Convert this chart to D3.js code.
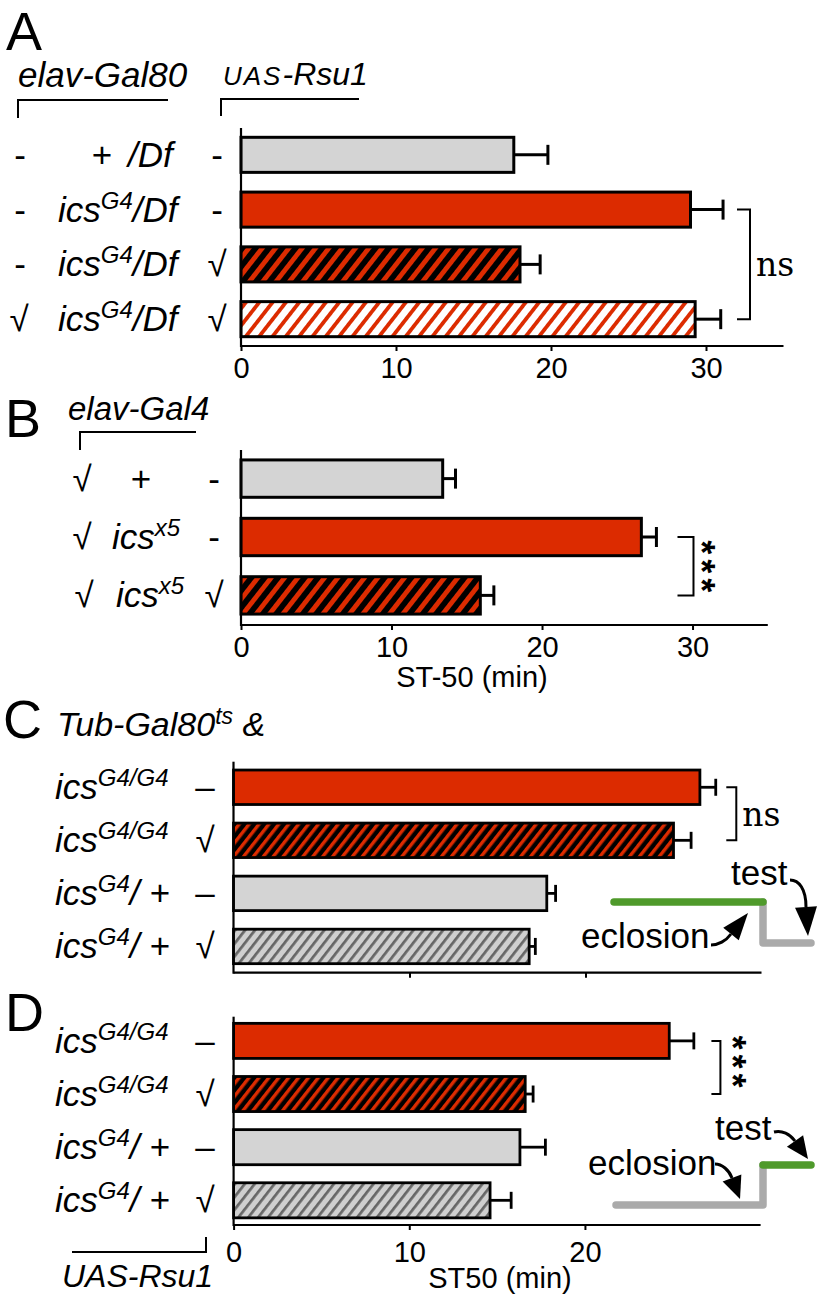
<!DOCTYPE html>
<html><head><meta charset="utf-8">
<script src="https://cdn.jsdelivr.net/npm/d3@7"></script>
<style>body{margin:0;background:#fff}svg{display:block}</style>
</head><body><svg id="c" width="820" height="1300"></svg>
<script>
// ================= DATA =================
// Panel A (elav-Gal80 / genotype / UAS-Rsu1)
const rowsA   = ["wt/Df", "icsG4/Df", "icsG4/Df+Rsu1", "elavGal80;icsG4/Df+Rsu1"];
const col1A   = ["-", "-", "-", "√"];
const genoA   = [["+", "", "/Df"], ["ics", "G4", "/Df"], ["ics", "G4", "/Df"], ["ics", "G4", "/Df"]];
const col3A   = ["-", "-", "√", "√"];
const meansA  = [17.6, 29.0, 18.0, 29.3];
const semA    = [2.2, 2.1, 1.3, 1.65];
const fillsA  = ["gray", "red", "redBlack", "redWhite"];
const ticksA  = [0, 10, 20, 30];

// Panel B (elav-Gal4 / genotype / UAS-Rsu1)
const rowsB   = ["wt", "icsx5", "icsx5+Rsu1"];
const col1B   = ["√", "√", "√"];
const genoB   = [["+", "", ""], ["ics", "x5", ""], ["ics", "x5", ""]];
const col3B   = ["-", "-", "√"];
const meansB  = [13.4, 26.6, 15.9];
const semB    = [0.85, 1.0, 0.9];
const fillsB  = ["gray", "red", "redBlack"];
const ticksB  = [0, 10, 20, 30];

// Panel C (Tub-Gal80ts, adult induction)
const rowsC   = ["G4/G4", "G4/G4+Rsu1", "G4/+", "G4/++Rsu1"];
const genoC   = [["ics", "G4/G4", ""], ["ics", "G4/G4", ""], ["ics", "G4", "/ +"], ["ics", "G4", "/ +"]];
const col3C   = ["–", "√", "–", "√"];
const meansC  = [26.5, 25.0, 17.8, 16.8];
const semC    = [0.9, 1.0, 0.5, 0.35];
const fillsC  = ["red", "redBlack", "gray", "grayHatch"];
const ticksC  = [10, 20];

// Panel D (Tub-Gal80ts, developmental induction)
const rowsD   = ["G4/G4", "G4/G4+Rsu1", "G4/+", "G4/++Rsu1"];
const genoD   = [["ics", "G4/G4", ""], ["ics", "G4/G4", ""], ["ics", "G4", "/ +"], ["ics", "G4", "/ +"]];
const col3D   = ["–", "√", "–", "√"];
const meansD  = [24.8, 16.6, 16.3, 14.6];
const semD    = [1.4, 0.45, 1.45, 1.2];
const fillsD  = ["red", "redBlack", "gray", "grayHatch"];
const ticksD  = [0, 10, 20];

// ================= STYLE =================
const SANS = "'Liberation Sans', Arial, Helvetica, sans-serif";
const MONO = "'Liberation Mono', 'Courier New', monospace";
const SERIF = "'DejaVu Serif', 'Liberation Serif', serif";
const RED = "#dc2b00", GRAY = "#d4d4d4", GREEN = "#4f9a2b", LGRAY = "#aaaaaa";
const LBL = 35, SUP = 24;

const svg = d3.select("#c");
const defs = svg.append("defs");

function hatch(id, bg, fg, period, stripe, angle) {
  const p = defs.append("pattern").attr("id", id)
    .attr("patternUnits", "userSpaceOnUse")
    .attr("width", period).attr("height", period)
    .attr("patternTransform", `rotate(${angle})`);
  p.append("rect").attr("width", period).attr("height", period).attr("fill", bg);
  p.append("rect").attr("width", stripe).attr("height", period).attr("fill", fg);
}
hatch("rbBig", "#000", RED, 10.5, 4.8, 38);
hatch("rwBig", "#fff", RED, 10.5, 3.8, 38);
hatch("rbSmall", "#000", RED, 7.8, 3.4, 38);
hatch("ghSmall", "#cfcfcf", "#666", 7.8, 2.7, 38);

function fillFor(kind, big) {
  if (kind === "gray") return GRAY;
  if (kind === "red") return RED;
  if (kind === "redBlack") return big ? "url(#rbBig)" : "url(#rbSmall)";
  if (kind === "redWhite") return "url(#rwBig)";
  if (kind === "grayHatch") return "url(#ghSmall)";
}

function txt(g, x, y, size, opts = {}) {
  return g.append("text").attr("x", x).attr("y", y)
    .attr("font-family", opts.family || SANS)
    .attr("font-size", size)
    .attr("font-style", opts.italic ? "italic" : "normal")
    .attr("text-anchor", opts.anchor || "start")
    .attr("fill", "#000");
}

// rich label: [base, sup, tail] in italic
function geno(g, x, y, parts) {
  const t = txt(g, x, y, LBL, { italic: true });
  const [base, sup, tail] = parts;
  t.append("tspan").text(base);
  if (sup) t.append("tspan").attr("dy", -13).attr("font-size", SUP).text(sup);
  if (tail) t.append("tspan").attr("dy", sup ? 13 : 0).text(tail);
  return t;
}

function panel(cfg) {
  const g = svg.append("g");
  const x = d3.scaleLinear().domain(cfg.domain).range(cfg.xr);
  const y = d3.scaleBand().domain(cfg.rows).range(cfg.yr)
    .paddingInner(cfg.pin).paddingOuter(cfg.pout);
  const axisY = cfg.axisY;
  const mid = d => y(d) + y.bandwidth() / 2;

  // bars
  g.selectAll("rect.bar").data(cfg.rows).join("rect").attr("class", "bar")
    .attr("x", x(0)).attr("y", d => y(d))
    .attr("width", (d, i) => x(cfg.means[i]) - x(0))
    .attr("height", y.bandwidth())
    .attr("fill", (d, i) => fillFor(cfg.fills[i], cfg.big))
    .attr("stroke", "#000").attr("stroke-width", cfg.sw);

  // error bars
  const eb = g.selectAll("g.eb").data(cfg.rows).join("g").attr("class", "eb");
  eb.append("line")
    .attr("x1", (d, i) => x(cfg.means[i])).attr("x2", (d, i) => x(cfg.means[i] + cfg.sem[i]))
    .attr("y1", mid).attr("y2", mid)
    .attr("stroke", "#000").attr("stroke-width", cfg.sw);
  eb.append("line")
    .attr("x1", (d, i) => x(cfg.means[i] + cfg.sem[i])).attr("x2", (d, i) => x(cfg.means[i] + cfg.sem[i]))
    .attr("y1", d => mid(d) - cfg.cap / 2)
    .attr("y2", d => mid(d) + cfg.cap / 2)
    .attr("stroke", "#000").attr("stroke-width", cfg.sw);

  // axes
  const ax = g.append("g").attr("transform", `translate(0,${axisY})`)
    .call(d3.axisBottom(x).tickValues(cfg.ticks).tickSize(5).tickSizeOuter(0)
      .tickFormat(cfg.labels ? d3.format("d") : ""));
  ax.select(".domain").attr("stroke", "#000").attr("stroke-width", 2.2)
    .attr("d", `M${x(0)},0H${x(cfg.domain[1])}`);
  ax.selectAll(".tick line").attr("stroke", "#000").attr("stroke-width", 2);
  ax.selectAll(".tick text").attr("font-family", SANS).attr("font-size", 29)
    .attr("fill", "#000").attr("y", cfg.labelY || 32).attr("dy", 0);
  g.append("line").attr("x1", x(0)).attr("x2", x(0))
    .attr("y1", cfg.yr[0]).attr("y2", axisY + 1)
    .attr("stroke", "#000").attr("stroke-width", 2.2);

  // row labels
  cfg.rows.forEach((r, i) => {
    const cy = mid(r) + 12;
    if (cfg.col1) txt(g, cfg.c1x[i], cy, LBL, { anchor: "middle" }).text(cfg.col1[i]);
    if (cfg.genoX[i] === "plus") {
      txt(g, cfg.plusX, cy, LBL, { anchor: "middle" }).text(cfg.geno[i][0]);
      if (cfg.geno[i][2]) txt(g, cfg.plusTailX, cy, LBL, { italic: true }).text(cfg.geno[i][2]);
    } else {
      geno(g, cfg.genoX[i], cy, cfg.geno[i]);
    }
    txt(g, cfg.c3x, cy, LBL, { anchor: "middle" }).text(cfg.col3[i]);
  });

  // significance
  if (cfg.sig) {
    const s = cfg.sig;
    const ya = mid(cfg.rows[s.a]), yb = mid(cfg.rows[s.b]);
    const bx = x(s.at);
    g.append("path").attr("d", `M${bx},${ya}H${bx + s.w}V${yb}H${bx}`)
      .attr("fill", "none").attr("stroke", "#000").attr("stroke-width", 2);
    const ym = (ya + yb) / 2;
    if (s.text === "ns") {
      txt(g, bx + s.w + 6, ym + 12, 33, { family: SERIF }).text("ns");
    } else {
      [-1, 0, 1].forEach(k => {
        g.append("text").attr("transform", `translate(${bx + s.w + s.dx},${ym + s.dy + k * 19}) rotate(90)`)
          .attr("font-family", MONO).attr("font-size", 36).attr("font-weight", "bold")
          .attr("text-anchor", "middle").attr("y", 20).text("*");
      });
    }
  }
  return { x, y, g };
}

// ---------------- Panel A ----------------
txt(svg, 6, 50, 54).text("A");
txt(svg, 18, 87, LBL, { italic: true }).text("elav-Gal80");
svg.append("path").attr("d", "M18,118V100H168").attr("fill", "none").attr("stroke", "#000").attr("stroke-width", 2);
{
  const t = txt(svg, 223, 85, 32, { italic: true });
  t.append("tspan").attr("font-size", 26).attr("letter-spacing", 2).text("UAS");
  t.append("tspan").text("-Rsu1");
}
svg.append("path").attr("d", "M221,116V99H359").attr("fill", "none").attr("stroke", "#000").attr("stroke-width", 2);

panel({
  rows: rowsA, means: meansA, sem: semA, fills: fillsA, ticks: ticksA, labels: true,
  domain: [0, 35], xr: [241, 783.5], yr: [128, 346], pin: 0.36, pout: 0.17, axisY: 346,
  sw: 3, cap: 20, big: true,
  col1: col1A, c1x: [20, 20, 20, 19], geno: genoA, genoX: ["plus", 58, 58, 58], plusX: 102, plusTailX: 128,
  col3: col3A, c3x: 217,
  sig: { a: 1, b: 3, at: 32, w: 13, text: "ns" }
});

// ---------------- Panel B ----------------
txt(svg, 5, 437, 54).text("B");
txt(svg, 68, 420, 33, { italic: true }).text("elav-Gal4");
svg.append("path").attr("d", "M80,450V432H196").attr("fill", "none").attr("stroke", "#000").attr("stroke-width", 2);
panel({
  rows: rowsB, means: meansB, sem: semB, fills: fillsB, ticks: ticksB, labels: true,
  domain: [0, 35], xr: [241, 767.8], yr: [450, 624], pin: 0.36, pout: 0.17, axisY: 625,
  sw: 3, cap: 20, big: true,
  col1: col1B, c1x: [82, 82, 84], geno: genoB, genoX: ["plus", 112, 116], plusX: 141, plusTailX: 0,
  col3: col3B, c3x: 214,
  sig: { a: 1, b: 2, at: 29, w: 16, text: "***", dx: 15, dy: 0 }
});
txt(svg, 472, 687, 29, { anchor: "middle" }).text("ST-50 (min)");

// ---------------- Panel C ----------------
txt(svg, 3, 738, 54).text("C");
{
  const t = txt(svg, 57, 736, 34, { italic: true });
  t.append("tspan").text("Tub-Gal80");
  t.append("tspan").attr("dy", -12).attr("font-size", 23).text("ts");
  t.append("tspan").attr("dy", 12).text(" &");
}
panel({
  rows: rowsC, means: meansC, sem: semC, fills: fillsC, ticks: ticksC, labels: false,
  domain: [0, 30], xr: [233.5, 761.5], yr: [761.7, 972], pin: 0.35, pout: 0.157, axisY: 972.7,
  sw: 2.8, cap: 17, big: false,
  geno: genoC, genoX: [55, 55, 55, 55], col3: col3C, c3x: 205,
  sig: { a: 0, b: 1, at: 28, w: 10, text: "ns" }
});

// ---------------- Panel D ----------------
txt(svg, 5, 1031, 54).text("D");
panel({
  rows: rowsD, means: meansD, sem: semD, fills: fillsD, ticks: ticksD, labels: true, labelY: 37,
  domain: [0, 30], xr: [233.6, 760.6], yr: [1016.7, 1224.5], pin: 0.34, pout: 0.125, axisY: 1225,
  sw: 2.8, cap: 17, big: false,
  geno: genoD, genoX: [55, 55, 55, 55], col3: col3D, c3x: 205,
  sig: { a: 0, b: 1, at: 27.2, w: 9, text: "***", dx: 19, dy: -6 }
});
txt(svg, 500, 1288, 29, { anchor: "middle" }).text("ST50 (min)");
txt(svg, 62, 1287, 32, { italic: true }).text("UAS-Rsu1");
svg.append("path").attr("d", "M72,1252H206V1237").attr("fill", "none").attr("stroke", "#000").attr("stroke-width", 2);

// ---------------- Timeline diagrams ----------------
function line(pts, color) {
  svg.append("path").attr("d", d3.line()(pts)).attr("fill", "none")
    .attr("stroke", color).attr("stroke-width", 7.5).attr("stroke-linecap", "round").attr("stroke-linejoin", "round");
}
// curved shaft from start through control points to base, then a filled triangular head to tip
function arrow(start, c1, c2, base, tip, halfW) {
  svg.append("path")
    .attr("d", `M${start}C${c1} ${c2} ${base}`)
    .attr("fill", "none").attr("stroke", "#000").attr("stroke-width", 3);
  const dx = tip[0] - base[0], dy = tip[1] - base[1];
  const L = Math.hypot(dx, dy), nx = -dy / L, ny = dx / L;
  const p1 = [base[0] + nx * halfW, base[1] + ny * halfW];
  const p2 = [base[0] - nx * halfW, base[1] - ny * halfW];
  svg.append("path").attr("d", `M${p1}L${tip}L${p2}Z`).attr("fill", "#000");
}
// C: green until eclosion, then test
line([[763, 902], [763, 943], [811, 943]], LGRAY);
line([[614, 902], [763, 902]], GREEN);
txt(svg, 731, 885, 35).text("test");
arrow([790, 880], [799, 880], [806, 889], [806, 907], [808, 936], 11);
txt(svg, 581, 948, 35).text("eclosion");
arrow([711, 945], [718, 945], [726, 941], [731, 934], [748, 913], 10);

// D: gray until eclosion, green after
line([[616, 1205], [763, 1205], [763, 1165]], LGRAY);
line([[763, 1165], [811, 1165]], GREEN);
txt(svg, 715, 1140, 35).text("test");
arrow([774, 1132], [782, 1130], [790, 1134], [795, 1141], [808, 1159], 10);
txt(svg, 588, 1175, 35).text("eclosion");
arrow([715, 1164], [722, 1164], [729, 1170], [732, 1178], [740, 1199], 10);
</script></body></html>
